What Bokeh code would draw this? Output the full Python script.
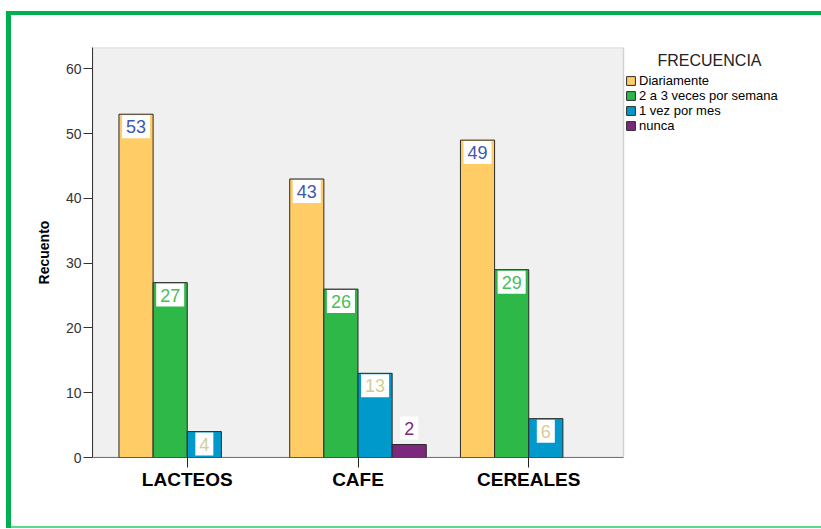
from bokeh.plotting import figure
from bokeh.models import (ColumnDataSource, Legend, LegendItem, Label,
                          BoxAnnotation, FixedTicker)
from bokeh.core.properties import value
from bokeh.embed import file_html
from bokeh.resources import INLINE

# Data
categorias = ["LACTEOS", "CAFE", "CEREALES"]
frecuencias = ["Diariamente", "2 a 3 veces por semana", "1 vez por mes", "nunca"]
diariamente = [53, 43, 49]
dos_a_tres = [27, 26, 29]
una_vez_mes = [4, 13, 6]
nunca = [0, 2, 0]
y_ticks = [0, 10, 20, 30, 40, 50, 60]

series = [diariamente, dos_a_tres, una_vez_mes, nunca]
bar_colors = ["#FFCC66", "#2EB848", "#0099CC", "#7C287D"]
label_colors = ["#3E58AC", "#45BF5A", "#D3CE97", "#7C287D"]
offsets = [-0.3, -0.1, 0.1, 0.3]
FONT = "Liberation Sans"

W, H = 821, 529
LEFT, RIGHT, TOP, BOTTOM = 92, 0, 47, 72
Y_MAX = 63.3

# category axis: one unit per category, the plot panel spans [X0, X1];
# the frame keeps going to the right so the legend can sit beside the panel
X0, X1 = -0.055, len(categorias) + 0.055
panel_px = 531
frame_px = W - LEFT - RIGHT
X_END = X0 + (X1 - X0) * frame_px / panel_px

p = figure(x_range=(X0, X_END), y_range=(0, Y_MAX), width=W, height=H,
           output_backend="svg", toolbar_location=None,
           min_border_left=LEFT, min_border_right=RIGHT,
           min_border_top=TOP, min_border_bottom=BOTTOM)

p.background_fill_color = "white"
p.border_fill_alpha = 0
p.outline_line_color = None
p.xgrid.visible = False
p.ygrid.visible = False

# page frame lines painted behind the transparent canvas border
p.styles = {
    "background": (
        "linear-gradient(#00B050,#00B050) 6px 11px / 815px 4px no-repeat, "
        "linear-gradient(#00B050,#00B050) 6px 11px / 5px 517px no-repeat, "
        "linear-gradient(#5BD98A,#5BD98A) 6px 526px / 815px 2px no-repeat, "
        "white"
    )
}

# grey plot panel
p.add_layout(BoxAnnotation(left=X0, right=X1, bottom=0, top=Y_MAX,
                           fill_color="#F0F0F0", fill_alpha=1,
                           line_color="#808080", line_width=1.5,
                           level="underlay"))

# Y axis
p.yaxis.ticker = y_ticks
p.yaxis.axis_line_color = "#333333"
p.yaxis.major_tick_line_color = "#333333"
p.yaxis.major_tick_out = 9
p.yaxis.major_tick_in = 0
p.yaxis.minor_tick_line_color = None
p.yaxis.major_label_text_font = FONT
p.yaxis.major_label_text_font_size = "14px"
p.yaxis.major_label_text_color = "#333333"
p.yaxis.major_label_standoff = 2
p.yaxis.axis_label = "Recuento"
p.yaxis.axis_label_text_font = FONT
p.yaxis.axis_label_text_font_style = "bold"
p.yaxis.axis_label_text_font_size = "14px"
p.yaxis.axis_label_text_color = "black"
p.yaxis.axis_label_standoff = 11

# X axis: ticks at category centres, baseline only under the panel
centres = [i + 0.5 for i in range(len(categorias))]
p.xaxis.ticker = FixedTicker(ticks=centres)
p.xaxis.major_label_overrides = {c: name for c, name in zip(centres, categorias)}
p.xaxis.axis_line_color = None
p.xaxis.major_tick_line_color = "#222222"
p.xaxis.major_tick_out = 10
p.xaxis.major_tick_in = 0
p.xaxis.minor_tick_line_color = None
p.xaxis.major_label_text_font = FONT
p.xaxis.major_label_text_font_style = "bold"
p.xaxis.major_label_text_font_size = "19px"
p.xaxis.major_label_text_color = "black"
p.xaxis.major_label_standoff = 1
p.segment(x0=[X0], y0=[0], x1=[X1], y1=[0], line_color="black", line_width=1.2)

items = []
for name, vals, fc, lc, off in zip(frecuencias, series, bar_colors,
                                   label_colors, offsets):
    keep = [(i + 0.5 + off, v) for i, v in enumerate(vals) if v > 0]
    src = ColumnDataSource(dict(x=[x for x, _ in keep],
                                val=[v for _, v in keep]))
    r = p.vbar(x="x", top="val", width=0.2, source=src, fill_color=fc,
               line_color="#2a2a2a", line_width=1)
    items.append(LegendItem(label=name, renderers=[r]))

    # value labels: inside the bar top when it fits, above it otherwise
    inside = [(x, v) for x, v in keep if v >= 3]
    above = [(x, v) for x, v in keep if v < 3]
    for group, base, yoff in ((inside, "top", 1), (above, "bottom", -5)):
        if not group:
            continue
        lsrc = ColumnDataSource(dict(x=[x for x, _ in group],
                                     val=[v for _, v in group],
                                     lbl=[str(v) for _, v in group]))
        p.text(x="x", y="val", text="lbl", source=lsrc,
               text_align="center", text_baseline=base, y_offset=yoff,
               text_color=lc, text_font=value(FONT), text_font_size="18px",
               background_fill_color="white", padding=(4, 5))

legend = Legend(items=items, location=(533, 324), orientation="vertical",
                glyph_width=11, glyph_height=11, label_height=12,
                label_standoff=3, spacing=0, padding=2, margin=0,
                label_text_font=FONT, label_text_font_size="13px",
                label_text_color="black", border_line_color=None,
                background_fill_alpha=0)
p.add_layout(legend, "center")

p.add_layout(Label(x=617, y=397, x_units="screen", y_units="screen",
                   text="FRECUENCIA", text_align="center",
                   text_baseline="middle", text_font=FONT,
                   text_font_size="16px", text_color="#222222"))

open("out.html", "w").write(file_html(p, INLINE))
